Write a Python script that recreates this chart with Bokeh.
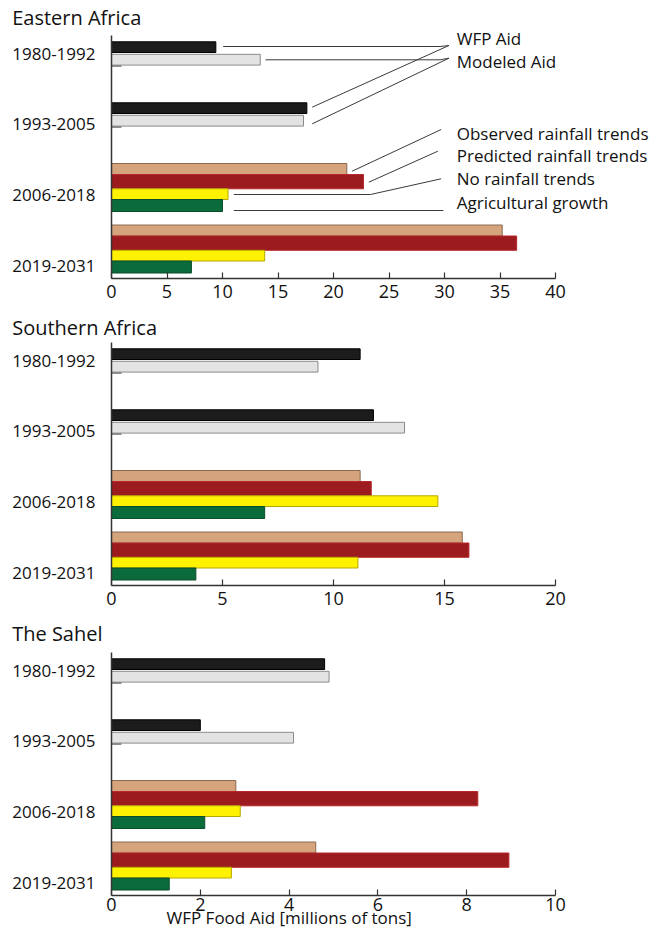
from bokeh.plotting import figure
from bokeh.layouts import column
from bokeh.models import Range1d, FixedTicker, ColumnDataSource, Title
from bokeh.embed import file_html
from bokeh.resources import INLINE
from bokeh.core.properties import value

# ---------------- data ----------------
periods = ["1980-1992", "1993-2005", "2006-2018", "2019-2031"]
regions = ["Eastern Africa", "Southern Africa", "The Sahel"]
series_names = ["WFP Aid", "Modeled Aid", "Observed rainfall trends",
                "Predicted rainfall trends", "No rainfall trends", "Agricultural growth"]

# historical periods (1980-1992, 1993-2005)
east_wfp = [9.4, 17.6]
east_modeled = [13.4, 17.3]
south_wfp = [11.2, 11.8]
south_modeled = [9.3, 13.2]
sahel_wfp = [4.8, 2.0]
sahel_modeled = [4.9, 4.1]

# projections (2006-2018, 2019-2031)
east_observed = [21.2, 35.2]
east_predicted = [22.7, 36.5]
east_norain = [10.5, 13.8]
east_agri = [10.0, 7.2]
south_observed = [11.2, 15.8]
south_predicted = [11.7, 16.1]
south_norain = [14.7, 11.1]
south_agri = [6.9, 3.8]
sahel_observed = [2.8, 4.6]
sahel_predicted = [8.25, 8.95]
sahel_norain = [2.9, 2.7]
sahel_agri = [2.1, 1.3]

x_max = [40, 20, 10]
x_step = [5, 5, 2]
x_label = "WFP Food Aid [millions of tons]"

# ---------------- style ----------------
FONT = "Open Sans"
AX = "#333333"
LEFT = 111
FRAME_W = 543
AXIS_PX = 444
GS = [6.3, 67.3, 128.0, 189.5]          # group top offsets (px)
TICK_Y = [18, 88, 159, 230]
COLORS = {
    "wfp": ("#1c1c1c", "#000000"),
    "modeled": ("#e3e3e3", "#8a8a8a"),
    "observed": ("#d6a47c", "#8a6a50"),
    "predicted": ("#9b1b1f", "#b8282c"),
    "norain": ("#fff200", "#b5a800"),
    "agri": ("#0c6b3a", "#0a4d2a"),
}


def make_panel(title, hist, proj, xmax, xstep, border_top, top_pad, title_standoff,
               border_bottom, tick_standoff, with_xlabel=False, annotate=False):
    span = xmax * FRAME_W / AXIS_PX
    p = figure(frame_width=FRAME_W, frame_height=top_pad + 243,
               min_border_left=LEFT, min_border_right=0, min_border_top=border_top,
               min_border_bottom=border_bottom,
               x_range=Range1d(0, span), y_range=Range1d(243, -top_pad),
               output_backend="svg", toolbar_location=None, tools="")
    p.outline_line_color = None
    p.xgrid.grid_line_color = None
    p.ygrid.grid_line_color = None
    p.background_fill_color = "white"
    p.border_fill_color = "white"

    p.title.text = title
    p.title.align = "left"
    p.title.vertical_align = "middle"
    p.title.offset = 11.7 - LEFT
    p.title.text_font = FONT
    p.title.text_font_size = "20px"
    p.title.text_font_style = "normal"
    p.title.text_color = "#111111"
    p.title.standoff = title_standoff

    wfp, modeled = hist
    observed, predicted, norain, agri = proj

    def bars(vals, groups, off, h, key):
        ys = [GS[g] + off + h / 2 for g in groups]
        src = ColumnDataSource(dict(y=ys, right=vals))
        fc, lc = COLORS[key]
        p.hbar(y="y", left=0, right="right", height=h, source=src,
               fill_color=fc, line_color=lc, line_width=1)
        return ys

    y_wfp = bars(wfp, [0, 1], 0, 10.7, "wfp")
    y_mod = bars(modeled, [0, 1], 12.5, 10.8, "modeled")
    y_obs = bars(observed, [2, 3], 0, 11, "observed")
    y_pre = bars(predicted, [2, 3], 11, 14.3, "predicted")
    y_nor = bars(norain, [2, 3], 25.3, 10.7, "norain")
    y_agr = bars(agri, [2, 3], 36, 12, "agri")

    # little stubs below modeled bars
    stub = xmax * 0.0225
    p.segment(x0=[0, 0], x1=[stub, stub], y0=[y + 6.4 for y in y_mod],
              y1=[y + 6.4 for y in y_mod], line_color="#444444", line_width=1)

    # axes
    xa = p.xaxis[0]
    xa.ticker = FixedTicker(ticks=list(range(0, xmax + 1, xstep)))
    xa.bounds = (0, xmax)
    xa.axis_line_color = AX
    xa.axis_line_width = 1.5
    xa.major_tick_line_color = AX
    xa.major_tick_line_width = 1.2
    xa.major_tick_in = 6
    xa.major_tick_out = 0
    xa.minor_tick_line_color = None
    xa.major_label_text_font = FONT
    xa.major_label_text_font_size = "18px"
    xa.major_label_text_color = "#111111"
    xa.major_label_standoff = tick_standoff

    ya = p.yaxis[0]
    ya.ticker = FixedTicker(ticks=TICK_Y)
    ya.major_label_overrides = {t: lab for t, lab in zip(TICK_Y, periods)}
    ya.bounds = (0, 243)
    ya.axis_line_color = AX
    ya.axis_line_width = 1.5
    ya.major_tick_line_color = None
    ya.minor_tick_line_color = None
    ya.major_label_text_font = FONT
    ya.major_label_text_font_size = "17px"
    ya.major_label_text_color = "#111111"
    ya.major_label_standoff = 10

    if with_xlabel:
        t = Title(text=x_label, align="left", vertical_align="middle",
                  offset=166 - LEFT, text_font=FONT, text_font_size="17px",
                  text_font_style="normal", text_color="#111111", standoff=-18)
        p.add_layout(t, "below")

    if annotate:
        tx = 31.1
        wfp_anchor = (30.4, 10.0)
        mod_anchor = (30.4, 22.7)
        lines_x = [
            [wfp[0] + 0.66, 29.6, wfp_anchor[0]],
            [wfp[1] + 0.48, wfp_anchor[0]],
            [modeled[0] + 0.47, 29.6, mod_anchor[0]],
            [modeled[1] + 0.78, mod_anchor[0]],
            [observed[0] + 0.48, 29.7],
            [predicted[0] + 0.48, 29.4],
            [norain[0] + 0.52, predicted[0] + 0.63, 29.7],
            [norain[0] + 0.52, 29.9],
        ]
        lines_y = [
            [y_wfp[0] - 0.65, y_wfp[0] - 0.65, wfp_anchor[1]],
            [y_wfp[1] - 0.95, wfp_anchor[1]],
            [y_mod[0] + 0.1, y_mod[0] + 0.1, mod_anchor[1]],
            [y_mod[1] + 3.1, mod_anchor[1]],
            [y_obs[0] + 2.2, 94.0],
            [y_pre[0] + 0.55, 115.7],
            [y_nor[0] + 0.35, y_nor[0] + 0.35, 143.3],
            [y_agr[0] + 5.0, y_agr[0] + 5.0],
        ]
        p.multi_line(xs=lines_x, ys=lines_y, line_color="#3a3a3a", line_width=1)
        p.text(x=[tx] * 6, y=[2.7, 26, 98.3, 120, 143.3, 166.7], text=series_names,
               text_font=value(FONT), text_font_size="17px", text_color="#111111",
               text_baseline="middle", text_align="left")
    return p


p1 = make_panel(regions[0], (east_wfp, east_modeled),
                (east_observed, east_predicted, east_norain, east_agri),
                x_max[0], x_step[0], border_top=27, top_pad=8, title_standoff=-8,
                border_bottom=32, tick_standoff=6, annotate=True)
p2 = make_panel(regions[1], (south_wfp, south_modeled),
                (south_observed, south_predicted, south_norain, south_agri),
                x_max[1], x_step[1], border_top=27, top_pad=5, title_standoff=-8,
                border_bottom=35, tick_standoff=6)
p3 = make_panel(regions[2], (sahel_wfp, sahel_modeled),
                (sahel_observed, sahel_predicted, sahel_norain, sahel_agri),
                x_max[2], x_step[2], border_top=24, top_pad=6, title_standoff=-3,
                border_bottom=38, tick_standoff=2, with_xlabel=True)

layout = column(p1, p2, p3, spacing=0)
open("out.html", "w").write(file_html(layout, INLINE))
